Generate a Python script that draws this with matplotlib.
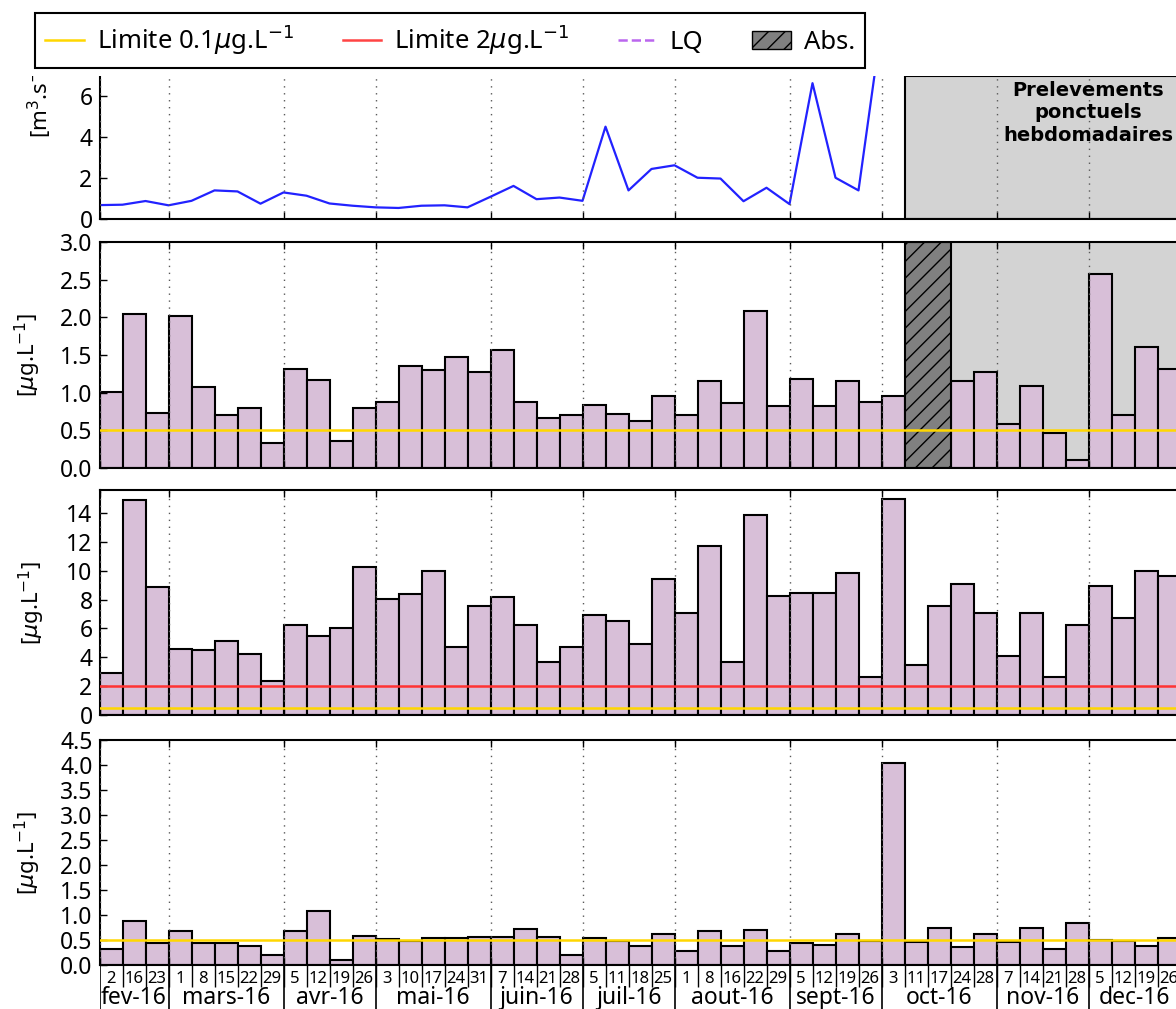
import numpy as np
import matplotlib
matplotlib.use('Agg')
import matplotlib.pyplot as plt
from matplotlib.lines import Line2D
from matplotlib.patches import Patch, Rectangle

plt.rcParams['font.family'] = ['Noto Sans', 'DejaVu Sans']

# sampling dates (one slot per sample)
months = ['fev-16', 'mars-16', 'avr-16', 'mai-16', 'juin-16', 'juil-16',
          'aout-16', 'sept-16', 'oct-16', 'nov-16', 'dec-16']
month_sizes = [3, 5, 4, 5, 4, 4, 5, 4, 5, 4, 4]
days = [2, 16, 23,
        1, 8, 15, 22, 29,
        5, 12, 19, 26,
        3, 10, 17, 24, 31,
        7, 14, 21, 28,
        5, 11, 18, 25,
        1, 8, 16, 22, 29,
        5, 12, 19, 26,
        3, 11, 17, 24, 28,
        7, 14, 21, 28,
        5, 12, 19, 26]

# flow [m3/s]
flow = [0.68, 0.70, 0.88, 0.67, 0.89, 1.40, 1.35, 0.75, 1.30, 1.14,
        0.76, 0.65, 0.57, 0.54, 0.65, 0.67, 0.57, 1.09, 1.62, 0.97,
        1.05, 0.89, 4.52, 1.40, 2.45, 2.63, 2.02, 1.98, 0.87, 1.53,
        0.73, 6.65, 2.02, 1.40, 9.5]

nan = np.nan
# concentrations [ug/L]
conc_a = [1.01, 2.04, 0.73, 2.02, 1.07, 0.70, 0.80, 0.33, 1.32, 1.17,
          0.36, 0.80, 0.88, 1.36, 1.30, 1.48, 1.28, 1.56, 0.88, 0.66,
          0.70, 0.84, 0.72, 0.62, 0.96, 0.70, 1.15, 0.86, 2.08, 0.82,
          1.18, 0.82, 1.15, 0.88, 0.95, nan, nan, 1.15, 1.28, 0.58,
          1.09, 0.47, 0.10, 2.58, 0.70, 1.60, 1.32]
conc_b = [2.9, 14.9, 8.87, 4.58, 4.49, 5.1, 4.2, 2.36, 6.23, 5.5,
          6.0, 10.25, 8.05, 8.36, 9.98, 4.7, 7.55, 8.15, 6.23, 3.68,
          4.7, 6.92, 6.5, 4.9, 9.44, 7.04, 11.7, 3.68, 13.9, 8.24,
          8.43, 8.43, 9.86, 2.66, 15.0, 3.5, 7.55, 9.05, 7.04, 4.1,
          7.04, 2.66, 6.23, 8.94, 6.74, 9.98, 9.65]
conc_c = [0.32, 0.89, 0.44, 0.69, 0.44, 0.44, 0.39, 0.20, 0.68, 1.08,
          0.11, 0.58, 0.53, 0.49, 0.55, 0.55, 0.57, 0.57, 0.73, 0.57,
          0.20, 0.55, 0.48, 0.39, 0.63, 0.29, 0.68, 0.39, 0.71, 0.29,
          0.44, 0.41, 0.63, 0.49, 4.05, 0.47, 0.75, 0.36, 0.62, 0.46,
          0.75, 0.32, 0.85, 0.51, 0.49, 0.39, 0.55]

absent = [35, 36]          # missing samples (conc_a)
punctual_start = 35        # start of weekly grab sampling
n_slots = 51
lim_low = 0.5
lim_high = 2.0

thistle = '#d8bfd8'
W, H = 1176, 1009
x0, slot = 99.5, 23.0

fig = plt.figure(figsize=(W / 100, H / 100), dpi=100)


def box(top, bottom):
    return [x0 / W, 1 - bottom / H, slot * n_slots / W, (bottom - top) / H]


x = np.arange(len(days))
edges = np.concatenate([[0], np.cumsum(month_sizes)])


def style(ax):
    ax.set_xlim(0, n_slots)
    ax.set_xticks(edges)
    ax.set_xticklabels([])
    ax.tick_params(direction='in', top=True, right=True, length=5,
                   width=1, labelsize=16.5, pad=5)
    ax.grid(axis='x', color='0.35', linestyle=(0, (1, 4)), linewidth=1)
    ax.set_axisbelow(False)
    for s in ax.spines.values():
        s.set_linewidth(1.5)


def bars(ax, vals):
    vals = np.asarray(vals, dtype=float)
    ok = ~np.isnan(vals)
    ax.bar(x[ok], vals[ok], width=1, align='edge', color=thistle,
           edgecolor='k', linewidth=1.5, zorder=1)


ylab = '[$\\mu$g.L$^{-1}$]'

# flow panel
ax1 = fig.add_axes(box(76, 219))
style(ax1)
ax1.axvspan(punctual_start, n_slots, facecolor='#d3d3d3', edgecolor='k',
            linewidth=1.5, zorder=0)
ax1.plot(np.arange(len(flow)), flow, color='#2222ff', lw=1.6, zorder=2)
ax1.set_ylim(0, 7)
ax1.set_yticks([0, 2, 4, 6])
ax1.spines['top'].set_visible(False)
ax1.tick_params(top=False)
ax1.set_ylabel('[m$^3$.s$^{-1}$]', fontsize=16)
ax1.yaxis.set_label_coords(-0.039, 0.87)
ax1.text((punctual_start + n_slots) / 2, 6.75,
         'Prelevements\nponctuels\nhebdomadaires', ha='center', va='top',
         fontsize=14, fontweight='bold', family='DejaVu Sans',
         linespacing=1.22, zorder=4)

# panel 2
ax2 = fig.add_axes(box(242, 468))
style(ax2)
ax2.axvspan(punctual_start, n_slots, facecolor='#d3d3d3', edgecolor='none',
            zorder=0)
bars(ax2, conc_a)
ax2.axvspan(min(absent), max(absent) + 1, facecolor='#808080',
            edgecolor='k', hatch='//', linewidth=1.5, zorder=1)
ax2.axhline(lim_low, color='gold', lw=1.8, zorder=3)
ax2.set_ylim(0, 3)
ax2.set_yticks(np.arange(0, 3.01, 0.5))
ax2.set_ylabel(ylab, fontsize=16)

# panel 3
ax3 = fig.add_axes(box(490, 715))
style(ax3)
bars(ax3, conc_b)
ax3.axhline(lim_high, color='#ff3333', lw=1.8, zorder=3)
ax3.axhline(lim_low, color='gold', lw=1.8, zorder=3)
ax3.set_ylim(0, 15.6)
ax3.set_yticks(np.arange(0, 15, 2))
ax3.set_ylabel(ylab, fontsize=16)

# panel 4
ax4 = fig.add_axes(box(740, 965))
style(ax4)
bars(ax4, conc_c)
ax4.axhline(lim_low, color='gold', lw=1.8, zorder=3)
ax4.set_ylim(0, 4.5)
ax4.set_yticks(np.arange(0, 4.51, 0.5))
ax4.set_ylabel(ylab, fontsize=16)

for ax in (ax2, ax4):
    ax.yaxis.set_label_coords(-0.048, 0.5)
ax3.yaxis.set_label_coords(-0.045, 0.5)

# date table under the last panel
axl = fig.add_axes([x0 / W, 0, slot * n_slots / W, (H - 965) / H])
axl.set_xlim(0, n_slots)
axl.set_ylim(0, 1)
axl.axis('off')
axl.vlines(x[1:], 0.5, 1, color='k', lw=1)
axl.vlines(edges, 0, 1, color='k', lw=1.2)
for xi, d in zip(x, days):
    axl.text(xi + 0.5, 0.68, str(d), ha='center', va='center', fontsize=12)
for m, a, b in zip(months, edges[:-1], edges[1:]):
    axl.text((a + b) / 2, 0.24, m, ha='center', va='center', fontsize=16.5)

# white band hiding the top of the flow panel
fig.add_artist(Rectangle((0, 1 - 76 / H), 1, 76 / H, transform=fig.transFigure,
                         facecolor='white', edgecolor='none', zorder=3))

handles = [Line2D([], [], color='gold', lw=1.8),
           Line2D([], [], color='#ff4444', lw=1.8),
           Line2D([], [], color='#bb66ee', lw=1.8, ls='--'),
           Patch(facecolor='#808080', edgecolor='k', hatch='//')]
labels = ['Limite 0.1$\\mu$g.L$^{-1}$', 'Limite 2$\\mu$g.L$^{-1}$', 'LQ', 'Abs.']
leg = fig.legend(handles, labels, loc='upper left',
                 bbox_to_anchor=(35 / W, 1 - 12.7 / H), ncol=4, fontsize=18.5,
                 fancybox=False, edgecolor='k', framealpha=1,
                 borderaxespad=0, columnspacing=1.9, handlelength=1.5,
                 handletextpad=0.5)
leg.get_frame().set_linewidth(1.5)
leg.set_zorder(5)

fig.savefig('out.png', dpi=100)
